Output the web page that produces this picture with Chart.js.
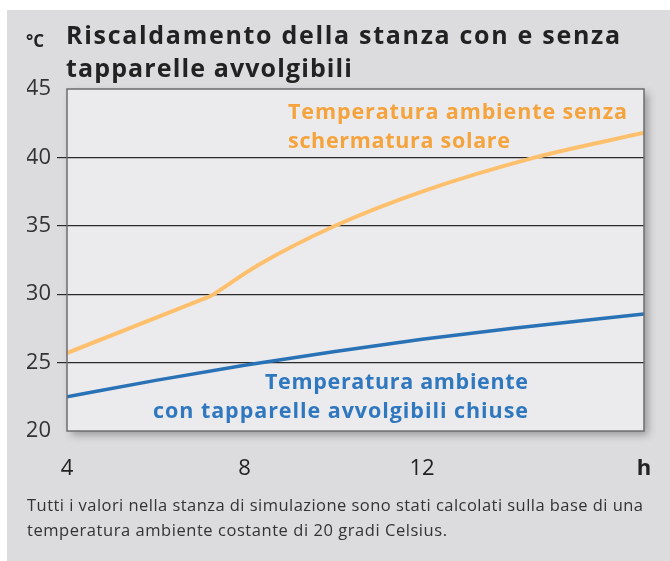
<!DOCTYPE html>
<html><head><meta charset="utf-8">
<script src="https://cdn.jsdelivr.net/npm/chart.js@4/dist/chart.umd.min.js"></script>
<style>html,body{margin:0;padding:0;background:#fff;}#wrap{width:670px;height:561px;position:relative;}</style>
</head><body><div id="wrap"><canvas id="c" width="670" height="561"></canvas></div>
<script>
// Orange: without sun shading (straight rise until ~7.3 h, then a smooth curve)
const hoursOpenA = [4, 7.26];
const tempOpenA = [25.7, 29.9];
const hoursOpenB = [7.26, 8.35, 10.04, 12, 14.55, 17];
const tempOpenB = [29.9, 32.2, 35.0, 37.5, 40.0, 41.8];
// Blue: with roller shutters closed
const hoursClosed = [4, 6, 8, 10, 12, 14, 16, 17];
const tempClosed = [22.5, 23.7, 24.8, 25.8, 26.7, 27.5, 28.2, 28.55];
const xTicks = [4, 8, 12, 17];
const xTickLabels = ['4', '8', '12', 'h'];
const yTicks = [20, 25, 30, 35, 40, 45];

const FONT = '"Open Sans", "DejaVu Sans", sans-serif';

function fitText(ctx, text, x, y, targetW, align) {
  ctx.letterSpacing = '0px';
  const w = ctx.measureText(text).width;
  const n = text.length;
  let ls = n > 1 ? (targetW - w) / (n - 1) : 0;
  ls = Math.max(-2, Math.min(4, ls));
  ctx.letterSpacing = ls + 'px';
  const realW = w + ls * (n - 1);
  ctx.textAlign = 'left';
  let sx = x;
  if (align === 'right') sx = x - realW;
  ctx.fillText(text, sx, y);
  ctx.letterSpacing = '0px';
}

const decor = {
  id: 'decor',
  beforeDraw(chart) {
    const ctx = chart.ctx, a = chart.chartArea;
    ctx.save();
    ctx.fillStyle = '#ffffff';
    ctx.fillRect(0, 0, 670, 561);
    ctx.fillStyle = '#dcdcdf';
    ctx.fillRect(7, 10, 663, 551);
    ctx.shadowColor = 'rgba(0,0,0,0.30)';
    ctx.shadowBlur = 8;
    ctx.shadowOffsetX = 4;
    ctx.shadowOffsetY = 4;
    ctx.fillStyle = '#ebebee';
    ctx.fillRect(a.left, a.top, a.right - a.left, a.bottom - a.top);
    ctx.restore();
  },
  afterDraw(chart) {
    const ctx = chart.ctx, a = chart.chartArea;
    ctx.save();
    ctx.strokeStyle = '#6e6e70';
    ctx.lineWidth = 1.5;
    ctx.strokeRect(a.left, a.top, a.right - a.left, a.bottom - a.top);
    ctx.textBaseline = 'alphabetic';
    // title
    ctx.fillStyle = '#222';
    ctx.font = 'bold 17px ' + FONT;
    ctx.fillText('°C', 26, 47);
    ctx.font = 'bold 25px ' + FONT;
    fitText(ctx, 'Riscaldamento della stanza con e senza', 66, 44, 554, 'left');
    fitText(ctx, 'tapparelle avvolgibili', 66, 77, 286, 'left');
    // orange annotation
    ctx.fillStyle = '#f5a33c';
    ctx.font = 'bold 21.5px ' + FONT;
    fitText(ctx, 'Temperatura ambiente senza', 288, 119, 339, 'left');
    fitText(ctx, 'schermatura solare', 288, 148, 222, 'left');
    // blue annotation
    ctx.fillStyle = '#2f77bf';
    fitText(ctx, 'Temperatura ambiente', 528, 389, 263, 'right');
    fitText(ctx, 'con tapparelle avvolgibili chiuse', 528, 418, 375, 'right');
    // footer
    ctx.fillStyle = '#333';
    ctx.font = '16.5px ' + FONT;
    fitText(ctx, 'Tutti i valori nella stanza di simulazione sono stati calcolati sulla base di una', 27, 511, 616, 'left');
    fitText(ctx, 'temperatura ambiente costante di 20 gradi Celsius.', 27, 536, 420, 'left');
    ctx.restore();
  }
};

const orangeStyle = { borderColor: '#ffc06e', borderWidth: 4, pointRadius: 0, fill: false };

new Chart(document.getElementById('c'), {
  type: 'line',
  data: {
    datasets: [
      Object.assign({
        label: 'Temperatura ambiente senza schermatura solare',
        data: hoursOpenA.map((h, i) => ({ x: h, y: tempOpenA[i] })),
        tension: 0
      }, orangeStyle),
      Object.assign({
        label: 'Temperatura ambiente senza schermatura solare (2)',
        data: hoursOpenB.map((h, i) => ({ x: h, y: tempOpenB[i] })),
        cubicInterpolationMode: 'monotone'
      }, orangeStyle),
      {
        label: 'Temperatura ambiente con tapparelle avvolgibili chiuse',
        data: hoursClosed.map((h, i) => ({ x: h, y: tempClosed[i] })),
        borderColor: '#2a72b6',
        borderWidth: 3.5,
        pointRadius: 0,
        cubicInterpolationMode: 'monotone',
        fill: false
      }
    ]
  },
  options: {
    responsive: false,
    animation: false,
    events: [],
    layout: { padding: { left: 27, top: 89, right: 26, bottom: 70 } },
    plugins: { legend: { display: false }, tooltip: { enabled: false }, title: { display: false } },
    scales: {
      x: {
        type: 'linear',
        min: 4, max: 17,
        afterBuildTicks: s => { s.ticks = xTicks.map(v => ({ value: v })); },
        afterFit: s => { s.height = 60; },
        grid: { display: false },
        border: { display: false },
        ticks: {
          padding: 17,
          color: '#222',
          maxRotation: 0,
          autoSkip: false,
          font: ctx => ({ family: FONT, size: 22, weight: ctx.tick && ctx.tick.value === 17 ? 'bold' : 'normal' }),
          callback: v => xTickLabels[xTicks.indexOf(v)]
        }
      },
      y: {
        min: 20, max: 45,
        afterBuildTicks: s => { s.ticks = yTicks.map(v => ({ value: v })); },
        afterFit: s => { s.width = 40; },
        border: { display: false },
        grid: {
          color: ctx => (ctx.tick && (ctx.tick.value === 20 || ctx.tick.value === 45)) ? 'rgba(0,0,0,0)' : '#2a2a2a',
          lineWidth: 1.2,
          drawTicks: true,
          tickLength: 10,
          tickColor: ctx => (ctx.tick && (ctx.tick.value === 20 || ctx.tick.value === 45)) ? 'rgba(0,0,0,0)' : '#2a2a2a'
        },
        ticks: {
          padding: 6,
          color: '#333',
          font: { family: FONT, size: 22 },
          callback: v => String(v)
        }
      }
    }
  },
  plugins: [decor]
});
</script>
</body></html>
